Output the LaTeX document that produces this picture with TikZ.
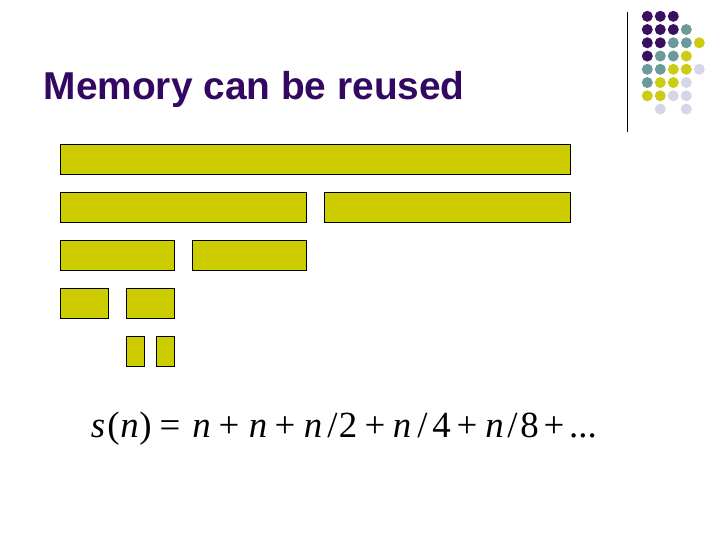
\documentclass[tikz,border=0pt]{standalone}
\usepackage{fontspec}
\setmainfont{Liberation Serif}
\newfontfamily\titlefont{Liberation Sans}
\definecolor{barY}{RGB}{204,204,0}
\definecolor{dotP}{RGB}{58,16,96}
\definecolor{dotT}{RGB}{107,154,154}
\definecolor{dotY}{RGB}{204,204,20}
\definecolor{dotL}{RGB}{214,214,232}
\definecolor{titleC}{RGB}{51,8,96}
\newcommand\myslash{/}
\begin{document}
\begin{tikzpicture}[x=1bp,y=-1bp,
  bar/.style={fill=barY, draw=black, line width=1.2bp},
  dot/.style={circle, inner sep=0pt, minimum size=11bp},
  eq/.style={anchor=base, inner sep=0pt, font=\fontsize{37}{40}\selectfont}]
\useasboundingbox (0,0) rectangle (720,540);
% title
\node[anchor=base west, inner sep=0pt, text=titleC, font=\titlefont\bfseries\fontsize{39}{44}\selectfont] (title) at (43.5,100) {Memory can be reused};
% separator line
\coordinate (lt) at (627.5,12.5);
\coordinate (lb) at (627.5,132.5);
\draw[line width=1.1bp] (lt) -- (lb);
% dots
\foreach \c/\r/\col in {1/1/dotP,2/1/dotP,3/1/dotP,
  1/2/dotP,2/2/dotP,3/2/dotP,4/2/dotT,
  1/3/dotP,2/3/dotP,3/3/dotT,4/3/dotT,5/3/dotY,
  1/4/dotP,2/4/dotT,3/4/dotT,4/4/dotY,
  1/5/dotT,2/5/dotT,3/5/dotY,4/5/dotY,5/5/dotL,
  1/6/dotT,2/6/dotY,3/6/dotY,4/6/dotL,
  1/7/dotY,2/7/dotY,3/7/dotL,4/7/dotL,
  2/8/dotL,4/8/dotL}
  \node[dot, fill=\col] (d\c\r) at ({647.3+13*(\c-1)},{16.3+13.25*(\r-1)}) {};
% bars
\draw[bar] (60.5,144.5) rectangle (570.5,174.5);
\draw[bar] (60.5,192.5) rectangle (306.5,222.5);
\draw[bar] (324.5,192.5) rectangle (570.5,222.5);
\draw[bar] (60.5,240.5) rectangle (174.5,270.5);
\draw[bar] (192.5,240.5) rectangle (306.5,270.5);
\draw[bar] (60.5,288.5) rectangle (108.5,318.5);
\draw[bar] (126.5,288.5) rectangle (174.5,318.5);
\draw[bar] (126.5,336.5) rectangle (144.5,366.5);
\draw[bar] (156.5,336.5) rectangle (174.5,366.5);
% formula
\foreach \x/\t [count=\i] in {98/{\textit{s}},113.5/{(},129.5/{\textit{n}},145.5/{)},170/{=},
  201.5/{\textit{n}},229/{+},258/{\textit{n}},285/{+},313/{\textit{n}},332.5/{\myslash},348/{2},
  375/{+},402/{\textit{n}},422.5/{\myslash},441.5/{4},467/{+},494.5/{\textit{n}},512.5/{\myslash},
  529.5/{8},554/{+},583/{...}}
  \node[eq] (f\i) at (\x,437) {\t};
\end{tikzpicture}
\end{document}
